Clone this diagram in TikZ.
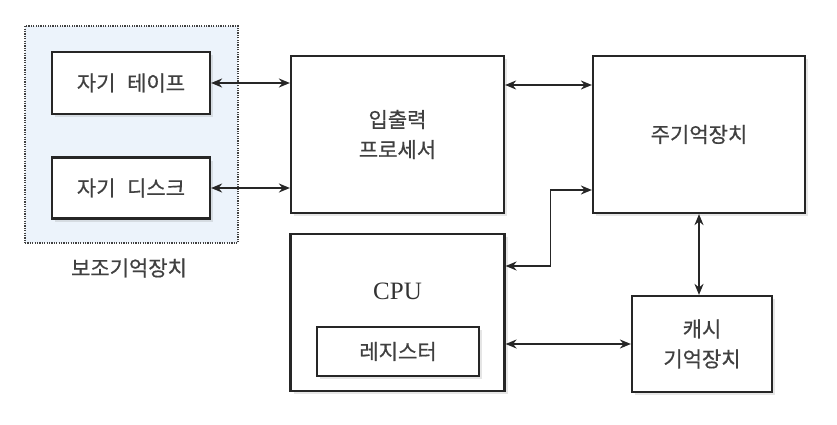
\documentclass[tikz,border=0pt]{standalone}
\usepackage{fontspec}
\newfontfamily\krfont[FakeBold=0.6]{Noto Sans CJK KR}
\newfontfamily\cpufont{Liberation Serif}
\usetikzlibrary{arrows.meta,shadows}
\definecolor{auxfill}{RGB}{236,243,251}
\begin{document}
\begin{tikzpicture}[x=1pt, y=-1pt,
  unitbox/.style={draw=black!85, line width=2.2pt, fill=white, inner sep=0pt,
    drop shadow={shadow xshift=3pt, shadow yshift=-3pt, opacity=0.2}},
  krtext/.style={font=\krfont\fontsize{21}{30}\selectfont, text=black!75, align=center},
  link/.style={line width=1.7pt, draw=black!85,
    {Stealth[length=11pt,width=9pt]}-{Stealth[length=11pt,width=9pt]}}]
% diagram in pixel units of the 837x425 frame
\useasboundingbox (0,0) rectangle (837,425);
% Auxiliary storage group
\node[draw=black!75, line width=1.8pt, dash pattern=on 1.2pt off 1.2pt, fill=auxfill,
  minimum width=213pt, minimum height=217pt] (auxbox) at (131.5,134.5) {};
\node[krtext] (auxlabel) at (129,268) {보조기억장치};
\node[unitbox, krtext, minimum width=158pt, minimum height=62pt] (tape) at (131,83) {자기\hspace{0.55em}테이프};
\node[unitbox, krtext, minimum width=158pt, minimum height=61pt] (disk) at (131,188) {자기\hspace{0.55em}디스크};
% Processors and memories
\node[unitbox, krtext, minimum width=213pt, minimum height=157pt] (iop) at (397.5,134.5) {입출력\\프로세서};
\node[unitbox, krtext, minimum width=212pt, minimum height=157pt] (mainmem) at (699,134.5) {주기억장치};
\node[unitbox, minimum width=214pt, minimum height=157pt] (cpu) at (397.5,312.5) {};
\node[font=\cpufont\fontsize{25}{30}\selectfont, text=black!80] (cpulabel) at (397.5,291) {CPU};
\node[unitbox, krtext, drop shadow={opacity=0}, minimum width=162pt, minimum height=49pt] (reg) at (398,351.5) {레지스터};
\node[unitbox, krtext, minimum width=140pt, minimum height=96pt] (cache) at (702,344) {캐시\\기억장치};
% Connectors
\draw[link] (tape.east) -- (iop.west |- tape.east);
\draw[link] (disk.east) -- (iop.west |- disk.east);
\draw[link] ([yshift=49.5pt]iop.east) -- ([yshift=49.5pt]mainmem.west);
\draw[link] ([yshift=46.5pt]cpu.east) -- ++(45,0) |- ([yshift=-55.5pt]mainmem.west);
\draw[link] (cpu.east |- cache.west) -- (cache.west);
\draw[link] (mainmem.south) -- (mainmem.south |- cache.north);
\end{tikzpicture}
\end{document}
